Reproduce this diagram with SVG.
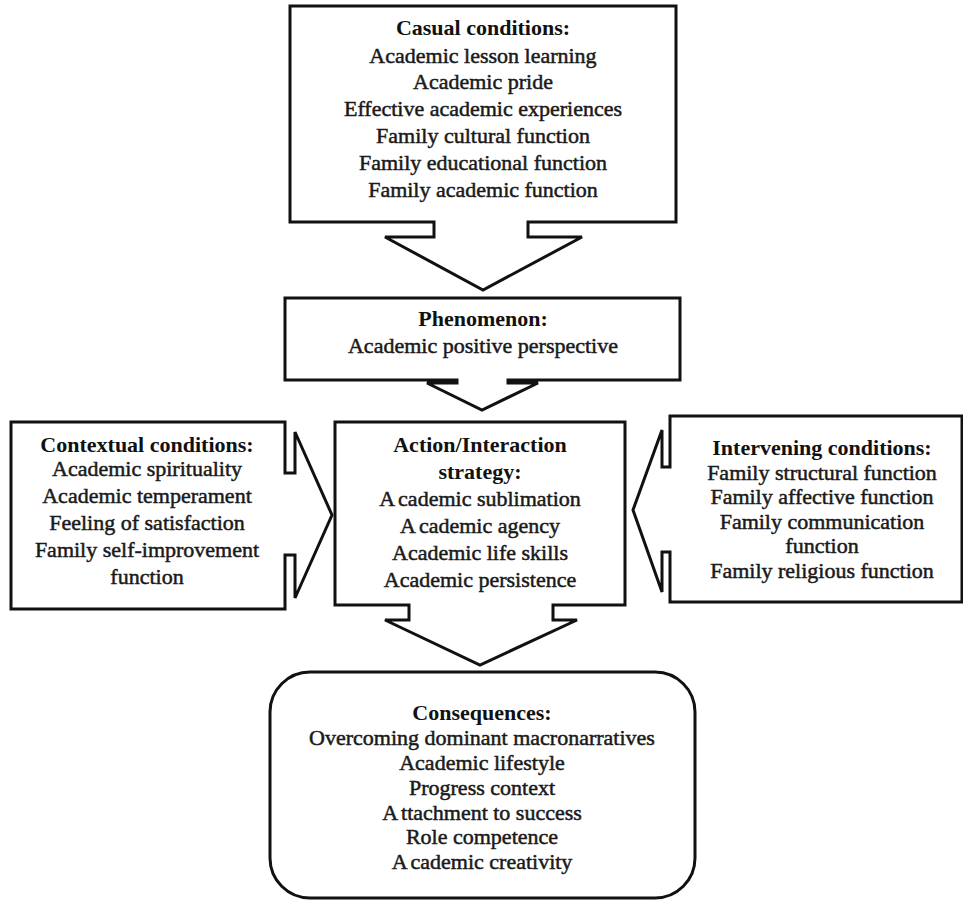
<svg xmlns="http://www.w3.org/2000/svg" width="963" height="902" viewBox="0 0 963 902">
<style>
.box{fill:#fff;stroke:#111;stroke-width:3;stroke-linejoin:miter}
text{font-family:"Liberation Serif","Times New Roman",serif;font-size:22px;text-anchor:middle;fill:#1a1a1a}
.h{font-weight:bold;fill:#111}
.b{stroke:#1a1a1a;stroke-width:0.5}
</style>
<rect width="963" height="902" fill="#fff"/>
<g id="connectors">
</g>
<g id="casual">
<path class="box" d="M290,6 H676 V222 H528 V237 H582 L483,290 L385,237 H434 V222 H290 Z"/>
<text x="483" y="35" class="h">Casual conditions:</text>
<text x="483" y="63" class="b">Academic lesson learning</text>
<text x="483" y="89" class="b">Academic pride</text>
<text x="483" y="116" class="b">Effective academic experiences</text>
<text x="483" y="143" class="b">Family cultural function</text>
<text x="483" y="170" class="b">Family educational function</text>
<text x="483" y="197" class="b">Family academic function</text>
</g>
<g id="phenomenon">
<path class="box" d="M285,298 H680 V380 H508 V383 H538 L482,410 L427,383 H457 V380 H285 Z"/>
<text x="483" y="326" class="h">Phenomenon:</text>
<text x="483" y="353" class="b">Academic positive perspective</text>
</g>
<g id="contextual">
<path class="box" d="M11,422 H285 V473 H295 V432 L332,515 L295,598 V555 H285 V609 H11 Z"/>
<text x="147" y="452" class="h">Contextual conditions:</text>
<text x="147" y="476" class="b">Academic spirituality</text>
<text x="147" y="503" class="b">Academic temperament</text>
<text x="147" y="530" class="b">Feeling of satisfaction</text>
<text x="147" y="557" class="b">Family self-improvement</text>
<text x="147" y="584" class="b">function</text>
</g>
<g id="action">
<path class="box" d="M335,422 H625 V605 H553 V620 H577 L480,665 L385,620 H409 V605 H335 Z"/>
<text x="480" y="452" class="h">Action/Interaction</text>
<text x="480" y="479" class="h">strategy:</text>
<text x="480" y="506" class="b"><tspan>A</tspan><tspan dx="3">cademic sublimation</tspan></text>
<text x="480" y="533" class="b"><tspan>A</tspan><tspan dx="3">cademic agency</tspan></text>
<text x="480" y="560" class="b">Academic life skills</text>
<text x="480" y="587" class="b">Academic persistence</text>
</g>
<g id="intervening">
<path class="box" d="M670,416 H962 V602 H670 V552 H662 V592 L633,510 L662,430 V467 H670 Z"/>
<text x="822" y="455" class="h">Intervening conditions:</text>
<text x="822" y="480" class="b">Family structural function</text>
<text x="822" y="504" class="b">Family affective function</text>
<text x="822" y="529" class="b">Family communication</text>
<text x="822" y="553" class="b">function</text>
<text x="822" y="578" class="b">Family religious function</text>
</g>
<g id="consequences">
<rect class="box" x="270" y="672" width="425" height="226" rx="40" ry="40"/>
<text x="482" y="720" class="h">Consequences:</text>
<text x="482" y="745" class="b">Overcoming dominant macronarratives</text>
<text x="482" y="770" class="b">Academic lifestyle</text>
<text x="482" y="795" class="b">Progress context</text>
<text x="482" y="820" class="b"><tspan>A</tspan><tspan dx="3">ttachment to success</tspan></text>
<text x="482" y="844" class="b">Role competence</text>
<text x="482" y="869" class="b"><tspan>A</tspan><tspan dx="3">cademic creativity</tspan></text>
</g>
</svg>
